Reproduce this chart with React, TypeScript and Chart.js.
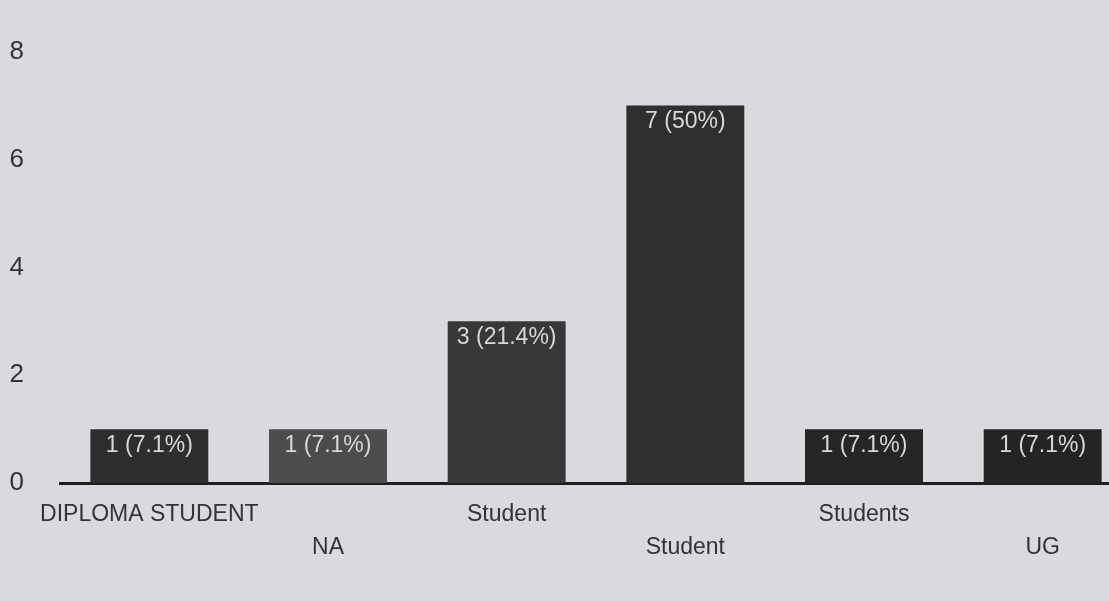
import React, { useEffect, useRef } from "react";
import { Chart, registerables } from "chart.js";

Chart.register(...registerables);

const categories = ["DIPLOMA STUDENT", "NA", "Student", "Student", "Students", "UG"];
const counts = [1, 1, 3, 7, 1, 1];
const percents = ["7.1%", "7.1%", "21.4%", "50%", "7.1%", "7.1%"];
const yMin = 0;
const yMax = 8;
const yStep = 2;
const barColors = ["#2e2e2e", "#4c4c4c", "#383838", "#2f2f2f", "#262626", "#242424"];

const FONT = "'Liberation Sans', Arial, sans-serif";

const barLabelPlugin = {
  id: "barLabels",
  afterDatasetsDraw(chart: any) {
    const ctx = chart.ctx;
    const meta = chart.getDatasetMeta(0);
    ctx.save();
    ctx.font = `23px ${FONT}`;
    ctx.fillStyle = "#d8d8d8";
    ctx.textAlign = "center";
    ctx.textBaseline = "top";
    meta.data.forEach((bar: any, i: number) => {
      ctx.fillText(`${counts[i]} (${percents[i]})`, bar.x, bar.y + 5);
    });
    ctx.restore();
  },
};

export default function App() {
  const canvasRef = useRef<HTMLCanvasElement | null>(null);

  useEffect(() => {
    if (!canvasRef.current) return;
    const labels = categories.map((c, i) => (i % 2 === 1 ? ["", c] : c));
    const chart = new Chart(canvasRef.current, {
      type: "bar",
      data: {
        labels,
        datasets: [
          {
            data: counts,
            backgroundColor: barColors,
            barPercentage: 0.66,
            categoryPercentage: 1,
          },
        ],
      },
      options: {
        responsive: false,
        animation: false,
        layout: { autoPadding: false, padding: { left: 8, right: 8, top: 36, bottom: 22 } },
        plugins: {
          legend: { display: false },
          tooltip: { enabled: false },
        },
        scales: {
          x: {
            grid: { display: false, drawTicks: false },
            border: { display: true, color: "#1e1e1e", width: 3 },
            ticks: {
              autoSkip: false,
              maxRotation: 0,
              minRotation: 0,
              padding: 15,
              color: "#333",
              font: { family: FONT, size: 23, lineHeight: 1.43 },
            },
          },
          y: {
            min: yMin,
            max: yMax,
            afterFit: (scale: any) => {
              scale.width = 52;
            },
            grid: { display: false, drawTicks: false },
            border: { display: false },
            ticks: {
              stepSize: yStep,
              padding: 36,
              color: "#333",
              font: { family: FONT, size: 26 },
            },
          },
        },
      },
      plugins: [barLabelPlugin],
    });
    return () => chart.destroy();
  }, []);

  return (
    <div
      style={{
        position: "fixed",
        left: 0,
        top: 0,
        width: 1109,
        height: 601,
        overflow: "hidden",
        background: "#d8dade",
      }}
    >
      <canvas ref={canvasRef} width={1140} height={601} style={{ display: "block" }} />
    </div>
  );
}
